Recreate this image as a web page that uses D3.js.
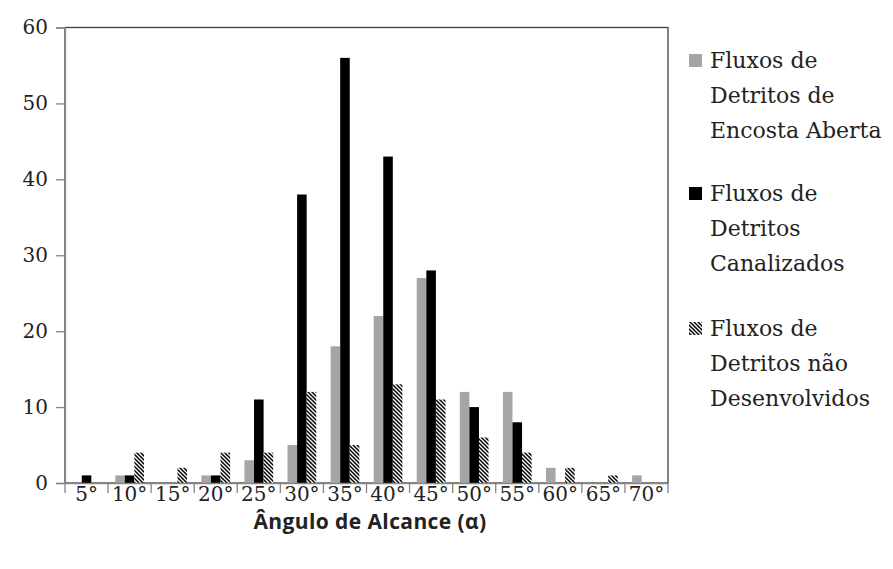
<!DOCTYPE html>
<html><head><meta charset="utf-8">
<script src="https://cdn.jsdelivr.net/npm/d3@7"></script>
<style>body{margin:0;background:#fff}</style>
</head><body>
<svg id="chart" width="893" height="569"></svg>
<script>
const categories = ["5°","10°","15°","20°","25°","30°","35°","40°","45°","50°","55°","60°","65°","70°"];
const encostaAberta = [0,1,0,1,3,5,18,22,27,12,12,2,0,1];
const canalizados   = [1,1,0,1,11,38,56,43,28,10,8,0,0,0];
const naoDesenvolvidos = [0,4,2,4,4,12,5,13,11,6,4,2,1,0];
const seriesNames = [
  ["Fluxos de","Detritos de","Encosta Aberta"],
  ["Fluxos de","Detritos","Canalizados"],
  ["Fluxos de","Detritos não","Desenvolvidos"]
];
const yTicks = [0,10,20,30,40,50,60];
const xTitle = "Ângulo de Alcance (α)";

const seriesData = [encostaAberta, canalizados, naoDesenvolvidos];
const keys = ["a","c","n"];
const fills = ["#a5a5a5","#000000","url(#hatch)"];

const svg = d3.select("#chart");
const defs = svg.append("defs");
const pat = defs.append("pattern").attr("id","hatch").attr("patternUnits","userSpaceOnUse")
  .attr("width",4).attr("height",4);
pat.append("rect").attr("width",4).attr("height",4).attr("fill","#fff");
pat.append("path").attr("d","M-1,-1 L5,5 M-1,3 L1,5 M3,-1 L5,1")
  .attr("stroke","#000").attr("stroke-width",1.5);

const pLeft = 65, pRight = 668, pTop = 27.5, pBottom = 483;
const x0 = d3.scaleBand().domain(categories).range([pLeft,pRight]).paddingInner(0).paddingOuter(0);
const bw = x0.bandwidth();
const x1 = d3.scaleBand().domain(keys).range([bw*0.75/4.5, bw*3.75/4.5]).padding(0);
const y = d3.scaleLinear().domain([0,60]).range([pBottom, pTop]);

// plot area border (top/right)
svg.append("rect").attr("x",pLeft).attr("y",y(60)).attr("width",pRight-pLeft).attr("height",pBottom-y(60))
  .attr("fill","none").attr("stroke","#3f3f3f").attr("stroke-width",1.3);

// bars
keys.forEach((k,i)=>{
  svg.append("g").selectAll("rect").data(seriesData[i].map((v,j)=>({cat:categories[j],v})))
    .join("rect")
    .attr("x",d=>x0(d.cat)+x1(k))
    .attr("width",x1.bandwidth())
    .attr("y",d=>y(d.v))
    .attr("height",d=>y(0)-y(d.v))
    .attr("fill",fills[i]);
});

// y axis
const yAxis = svg.append("g").attr("transform",`translate(${pLeft},0)`)
  .call(d3.axisLeft(y).tickValues(yTicks).tickSize(9).tickPadding(8).tickFormat(d3.format("d")));
yAxis.select(".domain").attr("stroke","#868686").attr("stroke-width",1.3);
yAxis.selectAll(".tick line").attr("stroke","#868686").attr("stroke-width",1.3);
yAxis.selectAll("text").attr("font-family","DejaVu Serif").attr("font-size",20).attr("fill","#222");

// x axis
const xAxis = svg.append("g").attr("transform",`translate(0,${pBottom})`)
  .call(d3.axisBottom(x0).tickSize(0).tickPadding(4));
xAxis.select(".domain").attr("stroke","#868686").attr("stroke-width",1.3);
xAxis.selectAll("text").attr("font-family","DejaVu Serif").attr("font-size",20).attr("fill","#222");
// category boundary ticks
const bounds = categories.map(c=>x0(c)).concat([pRight]);
svg.append("g").selectAll("line").data(bounds).join("line")
  .attr("x1",d=>d).attr("x2",d=>d).attr("y1",pBottom).attr("y2",pBottom+10)
  .attr("stroke","#868686").attr("stroke-width",1.3);

svg.append("text").attr("x",370).attr("y",529).attr("text-anchor","middle")
  .attr("font-family","Open Sans").attr("font-weight","bold").attr("font-size",21)
  .attr("letter-spacing",0.4).attr("fill","#222")
  .text(xTitle);

// legend
const legTops = [60,193,328];
const lineH = 35;
seriesNames.forEach((lines,i)=>{
  const g = svg.append("g");
  g.append("rect").attr("x",689).attr("y",legTops[i]-6).attr("width",13).attr("height",13)
    .attr("fill",fills[i]);
  lines.forEach((t,j)=>{
    g.append("text").attr("x",710).attr("y",legTops[i]+j*lineH+8)
      .attr("font-family","DejaVu Serif").attr("font-size",22).attr("fill","#222").text(t);
  });
});
</script>
</body></html>
